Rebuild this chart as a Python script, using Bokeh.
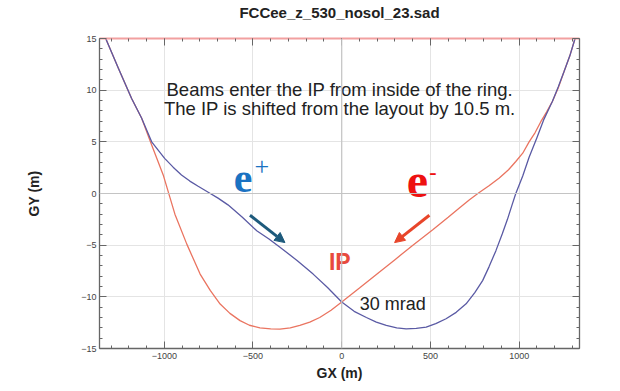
from bokeh.plotting import figure
from bokeh.models import Range1d, LinearAxis, Span, Arrow, NormalHead, FixedTicker
from bokeh.core.properties import value
from bokeh.embed import file_html
from bokeh.resources import INLINE

# ---- data ----
red_x = [-1330, -1258, -1184, -1128, -1071, -1006, -940, -873, -798, -740, -685, -630,
         -573, -520, -461, -400, -348, -290, -236, -180, -124, -60, 0, 100, 213, 300,
         401, 513, 600, 663, 720, 775, 830, 888, 940, 981, 1020, 1056, 1090, 1122,
         1155, 1187, 1220, 1253, 1285, 1315]
red_y = [15, 12.1, 9.2, 7.3, 4.7, 1.8, -2.0, -4.9, -7.8, -9.4, -10.7, -11.6,
         -12.3, -12.75, -13.0, -13.1, -13.13, -13.0, -12.77, -12.45, -12.0, -11.3, -10.5, -9.15, -7.6, -6.4,
         -5.0, -3.5, -2.3, -1.4, -0.6, 0.1, 0.75, 1.5, 2.3, 3.1, 3.9, 5.0, 5.9, 6.95,
         7.9, 8.9, 10.2, 11.8, 13.3, 15]

blue_x = [-1330, -1258, -1184, -1128, -1071, -998, -950, -903, -856, -809, -750, -697, -641, -560,
          -479, -410, -348, -250, -161, -80, 0, 70, 139, 195, 251, 310, 363, 420,
          476, 530, 588, 645, 701, 750, 794, 830, 869, 905, 934, 960, 981, 1020,
          1056, 1100, 1140, 1187, 1220, 1253, 1285, 1315]
blue_y = [15, 12.1, 9.2, 7.3, 5.0, 3.4, 2.55, 1.8, 1.2, 0.7, 0.1, -0.45, -1.1, -2.3,
          -3.6, -4.4, -5.2, -6.5, -7.8, -9.1, -10.5, -11.4, -12.0, -12.45, -12.77, -13.0, -13.1, -13.05,
          -12.93, -12.6, -12.12, -11.5, -10.68, -9.6, -8.43, -7.1, -5.53, -3.9, -2.5, -1.1, 0.0, 1.7,
          3.5, 5.4, 7.2, 8.9, 10.3, 11.8, 13.3, 15]

x_major = [-1000, -500, 0, 500, 1000]
y_major = [-15, -10, -5, 0, 5, 10, 15]

title_text = "FCCee_z_530_nosol_23.sad"
note_lines = ["Beams enter the IP from inside of the ring.",
              "The IP is shifted from the layout by 10.5 m."]

RED = "#ea7460"
BLUE = "#5a5aa4"
FONT = "Liberation Sans"

p = figure(width=620, height=391, output_backend="svg", toolbar_location=None,
           x_range=Range1d(-1365, 1340), y_range=Range1d(-15, 15),
           min_border_left=99, min_border_right=41, min_border_top=37, min_border_bottom=43)
p.background_fill_color = "white"
p.border_fill_color = "white"
p.outline_line_color = None
p.title.visible = False

xt = FixedTicker(ticks=x_major, minor_ticks=list(range(-1300, 1400, 100)))
yt = FixedTicker(ticks=y_major, minor_ticks=list(range(-15, 16)))

def style_axis(ax, labels=True):
    ax.axis_line_color = "#666666"
    ax.axis_line_width = 1.3
    ax.major_tick_in = 7
    ax.major_tick_out = 0
    ax.minor_tick_in = 3
    ax.minor_tick_out = 0
    ax.major_tick_line_color = "#666666"
    ax.minor_tick_line_color = "#666666"
    ax.major_label_text_font = FONT
    ax.major_label_text_font_size = "9px"
    ax.major_label_text_color = "#444444"
    if not labels:
        ax.major_label_text_alpha = 0
        ax.major_label_text_font_size = "1px"
        ax.major_label_standoff = 0

xa = p.xaxis[0]
xa.ticker = xt
style_axis(xa)
xa.axis_label = "GX (m)"
xa.axis_label_text_font = FONT
xa.axis_label_text_font_size = "14px"
xa.axis_label_text_font_style = "bold"
xa.axis_label_text_color = "#222222"
xa.axis_label_standoff = 3
xa.major_label_standoff = 4

ya = p.yaxis[0]
ya.ticker = yt
style_axis(ya)
ya.axis_label = "GY (m)"
ya.axis_label_text_font = FONT
ya.axis_label_text_font_size = "14px"
ya.axis_label_text_font_style = "bold"
ya.axis_label_text_color = "#222222"
ya.axis_label_standoff = 36
ya.major_label_standoff = 3

# top axis carries the chart title as its label
top = LinearAxis(ticker=xt)
style_axis(top, labels=False)
top.axis_line_color = "#f2a0a0"
top.axis_line_width = 2
top.axis_label = title_text
top.axis_label_text_font = FONT
top.axis_label_text_font_size = "15px"
top.axis_label_text_font_style = "bold"
top.axis_label_text_color = "#222222"
top.axis_label_standoff = 18
p.add_layout(top, "above")

right = LinearAxis(ticker=yt)
style_axis(right, labels=False)
p.add_layout(right, "right")

p.xgrid.ticker = xt
p.ygrid.ticker = yt
p.xgrid.grid_line_color = "#e4e4e4"
p.ygrid.grid_line_color = "#e4e4e4"

p.add_layout(Span(location=0, dimension="width", line_color="#c4c4c4", line_width=1.2))
p.add_layout(Span(location=0, dimension="height", line_color="#c4c4c4", line_width=1.2))

p.line(red_x, red_y, line_color=RED, line_width=1.3)
p.line(blue_x, blue_y, line_color=BLUE, line_width=1.3)

# annotations
p.text(x=[-11, -11], y=[10.1, 8.2], text=note_lines, text_font=value(FONT),
       text_font_size="18.5px", text_color="#222222", text_align="center",
       text_baseline="middle")
p.text(x=[-556], y=[1.5], text=["e"], text_font=value("Liberation Serif"),
       text_font_size="42px", text_font_style="bold", text_color="#1a72c2",
       text_align="center", text_baseline="middle")
p.text(x=[-450], y=[2.6], text=["+"], text_font=value("Liberation Serif"),
       text_font_size="26px", text_color="#1a72c2",
       text_align="center", text_baseline="middle")
p.text(x=[427], y=[1.2], text=["e"], text_font=value("Liberation Serif"),
       text_font_size="48px", text_font_style="bold", text_color="#ee1111",
       text_align="center", text_baseline="middle")
p.text(x=[514], y=[2.1], text=["-"], text_font=value("Liberation Serif"),
       text_font_size="22px", text_font_style="bold", text_color="#ee1111",
       text_align="center", text_baseline="middle")
p.text(x=[-11], y=[-6.6], text=["IP"], text_font=value(FONT),
       text_font_size="23px", text_font_style="bold", text_color="#e84a3c",
       text_align="center", text_baseline="middle")
p.text(x=[101], y=[-10.65], text=["30 mrad"], text_font=value(FONT),
       text_font_size="18px", text_color="#222222",
       text_align="left", text_baseline="middle")

p.add_layout(Arrow(x_start=-517, y_start=-2.1, x_end=-320, y_end=-4.75,
                   line_color="#1d5a7c", line_width=3,
                   end=NormalHead(size=10, fill_color="#1d5a7c", line_color="#1d5a7c")))
p.add_layout(Arrow(x_start=494, y_start=-2.1, x_end=298, y_end=-4.75,
                   line_color="#e8452a", line_width=3,
                   end=NormalHead(size=10, fill_color="#e8452a", line_color="#e8452a")))

open("out.html", "w").write(file_html(p, INLINE))
